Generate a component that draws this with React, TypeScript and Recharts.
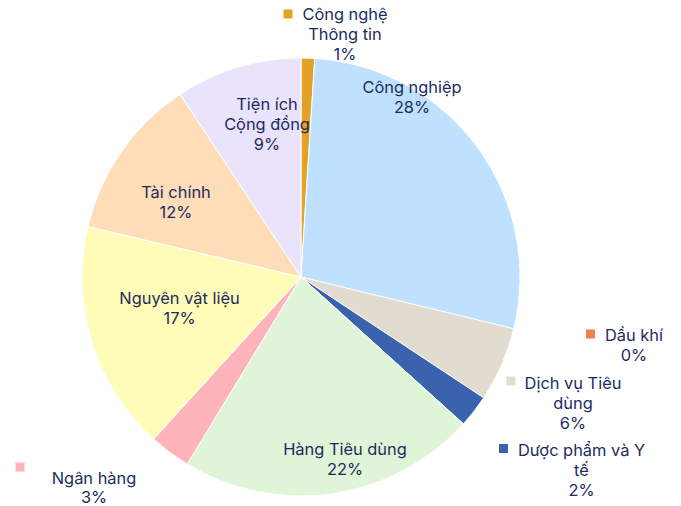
import React from "react";
import { PieChart, Pie, Cell } from "recharts";

const categories = [
  "Công nghệ Thông tin",
  "Công nghiệp",
  "Dầu khí",
  "Dịch vụ Tiêu dùng",
  "Dược phẩm và Y tế",
  "Hàng Tiêu dùng",
  "Ngân hàng",
  "Nguyên vật liệu",
  "Tài chính",
  "Tiện ích Cộng đồng",
];

const shares = [1.0, 27.8, 0.0, 5.5, 2.4, 22.0, 3.05, 16.95, 12.0, 9.3];

const colors = [
  "#E3A126",
  "#BDE1FE",
  "#E8824E",
  "#E2DCD0",
  "#3A62AD",
  "#E0F5D8",
  "#FFB3BA",
  "#FFFCB8",
  "#FEDDB8",
  "#E9E3FC",
];

// label layout: offsets of the label's first line from the pie centre, wrap width,
// and (for outside labels) the legend-key marker offset
const labelLayout = [
  { dx: 44, dy: -263, wrap: 10, mdx: -13, mdy: -263 },
  { dx: 111, dy: -190, wrap: 99 },
  { dx: 333, dy: 58, wrap: 99, mdx: 289.5, mdy: 57 },
  { dx: 272, dy: 106, wrap: 12, mdx: 210, mdy: 104 },
  { dx: 280.5, dy: 173, wrap: 14, mdx: 202.5, mdy: 171.5 },
  { dx: 44, dy: 172, wrap: 99 },
  { dx: -207, dy: 201, wrap: 99, mdx: -281, mdy: 190, lh: 18.5 },
  { dx: -121.5, dy: 21, wrap: 99 },
  { dx: -125, dy: -85, wrap: 99 },
  { dx: -34, dy: -173, wrap: 9 },
];

const data = categories.map((name, i) => ({ name, value: shares[i] }));

const TEXT_COLOR = "#1C2B5E";
const LINE_H = 20;

function wrapText(s: string, max: number): string[] {
  const words = s.split(" ");
  const lines: string[] = [];
  let cur = "";
  for (const w of words) {
    const next = cur ? cur + " " + w : w;
    if (next.length > max && cur) {
      lines.push(cur);
      cur = w;
    } else {
      cur = next;
    }
  }
  if (cur) lines.push(cur);
  return lines;
}

const renderLabel = (props: any) => {
  const { cx, cy, index, percent } = props;
  const lay: any = labelLayout[index];
  if (!lay) return null;
  const lines = wrapText(categories[index], lay.wrap);
  lines.push(`${Math.round((percent || 0) * 100)}%`);
  const x = cx + lay.dx;
  const y = cy + lay.dy;
  const lh = lay.lh ?? LINE_H;
  return (
    <g key={`lbl-${index}`}>
      {lay.mdx !== undefined && (
        <rect
          x={cx + lay.mdx - 4.5}
          y={cy + lay.mdy - 4.5}
          width={9}
          height={9}
          fill={colors[index]}
        />
      )}
      <text
        x={x}
        y={y}
        textAnchor="middle"
        fill={TEXT_COLOR}
        fontFamily="Inter, sans-serif"
        fontSize={16.4}
      >
        {lines.map((l, k) => (
          <tspan key={k} x={x} y={y + k * lh} dominantBaseline="central">
            {l}
          </tspan>
        ))}
      </text>
    </g>
  );
};

export default function App() {
  return (
    <div style={{ position: "absolute", left: 0, top: 0, background: "#fff" }}>
      <PieChart
        width={681}
        height={506}
        margin={{ top: 0, right: 0, bottom: 0, left: 0 }}
      >
        <Pie
          data={data}
          dataKey="value"
          nameKey="name"
          cx={301}
          cy={277}
          outerRadius={219}
          startAngle={90}
          endAngle={-270}
          stroke="#ffffff"
          strokeWidth={1}
          label={renderLabel}
          labelLine={false}
          isAnimationActive={false}
        >
          {data.map((d, i) => (
            <Cell key={d.name} fill={colors[i]} />
          ))}
        </Pie>
      </PieChart>
    </div>
  );
}
